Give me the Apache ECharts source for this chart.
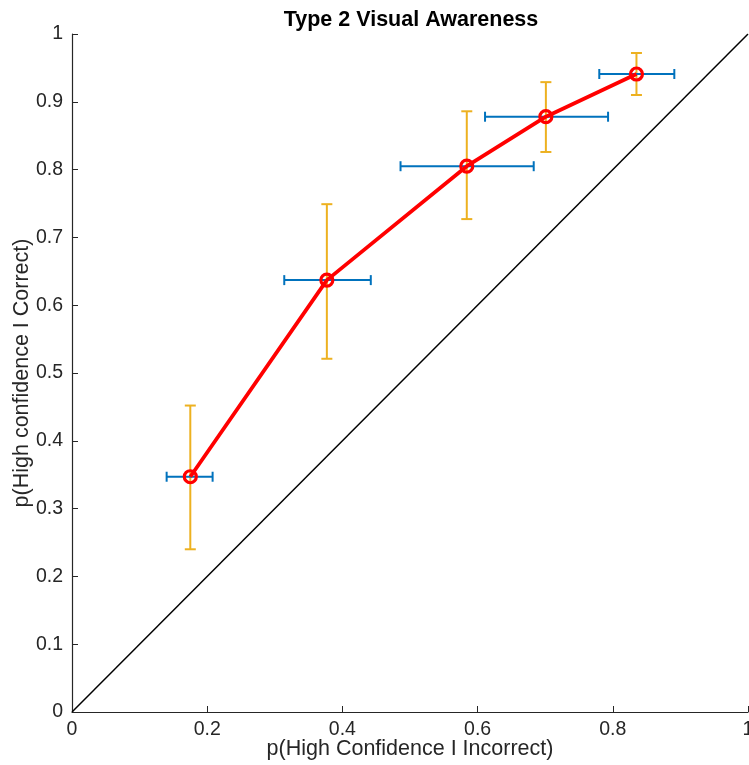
<!DOCTYPE html>
<html>
<head>
<meta charset="utf-8">
<script src="https://cdn.jsdelivr.net/npm/echarts@6/dist/echarts.min.js"></script>
<style>
  html, body { margin: 0; padding: 0; background: #fff; }
  #chart { width: 749px; height: 765px; }
</style>
</head>
<body>
<div id="chart"></div>
<script>
// values
const pIncorrect = [0.175, 0.377, 0.584, 0.701, 0.835]
const pCorrect = [0.347, 0.637, 0.805, 0.878, 0.941]
const xErrLow = [0.140, 0.314, 0.486, 0.611, 0.780]
const xErrHigh = [0.208, 0.442, 0.683, 0.793, 0.891]
const yErrLow = [0.240, 0.521, 0.727, 0.826, 0.910]
const yErrHigh = [0.452, 0.749, 0.886, 0.929, 0.972]
const diagX = [0, 1]
const diagY = [0, 1]

const axisColor = '#262626'
const fontFamily = 'Liberation Sans, Arial, Helvetica, sans-serif'

const chart = echarts.init(document.getElementById('chart'), null, { renderer: 'canvas' })

// vertical error bars (orange) and horizontal error bars (blue)
const vBars = pIncorrect.map((x, i) => [x, pCorrect[i], yErrLow[i], yErrHigh[i]])
const hBars = pIncorrect.map((x, i) => [x, pCorrect[i], xErrLow[i], xErrHigh[i]])

function renderVBar(params, api) {
  const x = api.value(0)
  const lo = api.coord([x, api.value(2)])
  const hi = api.coord([x, api.value(3)])
  const cap = 5.5
  const style = { stroke: '#EDB120', lineWidth: 2 }
  return {
    type: 'group',
    children: [
      { type: 'line', shape: { x1: lo[0], y1: lo[1], x2: hi[0], y2: hi[1] }, style },
      { type: 'line', shape: { x1: lo[0] - cap, y1: lo[1], x2: lo[0] + cap, y2: lo[1] }, style },
      { type: 'line', shape: { x1: hi[0] - cap, y1: hi[1], x2: hi[0] + cap, y2: hi[1] }, style },
    ],
  }
}

function renderHBar(params, api) {
  const y = api.value(1)
  const lo = api.coord([api.value(2), y])
  const hi = api.coord([api.value(3), y])
  const cap = 5
  const style = { stroke: '#0072BD', lineWidth: 2 }
  return {
    type: 'group',
    children: [
      { type: 'line', shape: { x1: lo[0], y1: lo[1], x2: hi[0], y2: hi[1] }, style },
      { type: 'line', shape: { x1: lo[0], y1: lo[1] - cap, x2: lo[0], y2: lo[1] + cap }, style },
      { type: 'line', shape: { x1: hi[0], y1: hi[1] - cap, x2: hi[0], y2: hi[1] + cap }, style },
    ],
  }
}

chart.setOption({
  animation: false,
  title: {
    text: 'Type 2 Visual Awareness',
    left: 406, top: 4, textAlign: 'center',
    textStyle: { fontFamily, fontSize: 21.5, fontWeight: 'bold', color: '#000' },
  },
  grid: { left: 72, right: 1, top: 34, bottom: 53, containLabel: false, outerBoundsMode: 'none' },
  xAxis: {
    type: 'value', min: 0, max: 1, interval: 0.2,
    name: 'p(High Confidence I Incorrect)',
    nameLocation: 'middle', nameGap: 26, nameMoveOverlap: false,
    nameTextStyle: { fontFamily, fontSize: 21.5, color: axisColor },
    axisLine: { show: true, onZero: false, lineStyle: { color: axisColor, width: 1.2 } },
    axisTick: { show: true, inside: true, length: 6, lineStyle: { color: axisColor } },
    axisLabel: { fontFamily, fontSize: 19.5, color: axisColor, margin: 8 },
    splitLine: { show: false },
  },
  yAxis: {
    type: 'value', min: 0, max: 1, interval: 0.1,
    name: 'p(High confidence I Correct)',
    nameLocation: 'middle', nameGap: 39, nameMoveOverlap: false,
    nameTextStyle: { fontFamily, fontSize: 21.5, color: axisColor },
    axisLine: { show: true, onZero: false, lineStyle: { color: axisColor, width: 1.2 } },
    axisTick: { show: true, inside: true, length: 6, lineStyle: { color: axisColor } },
    axisLabel: { fontFamily, fontSize: 19.5, color: axisColor, margin: 9 },
    splitLine: { show: false },
  },
  series: [
    {
      type: 'line', name: 'chance',
      data: diagX.map((x, i) => [x, diagY[i]]),
      symbol: 'none', silent: true,
      lineStyle: { color: '#000', width: 1.5 },
    },
    {
      type: 'custom', name: 'yerr',
      data: vBars, renderItem: renderVBar,
      encode: { x: 0, y: 1 }, silent: true,
    },
    {
      type: 'custom', name: 'xerr',
      data: hBars, renderItem: renderHBar,
      encode: { x: 0, y: 1 }, silent: true,
    },
    {
      type: 'line', name: 'roc',
      data: pIncorrect.map((x, i) => [x, pCorrect[i]]),
      symbol: 'circle', symbolSize: 12,
      lineStyle: { color: '#FF0000', width: 3.8 },
      itemStyle: { color: 'rgba(0,0,0,0)', borderColor: '#FF0000', borderWidth: 3.2 },
      z: 5,
    },
  ],
})
</script>
</body>
</html>
